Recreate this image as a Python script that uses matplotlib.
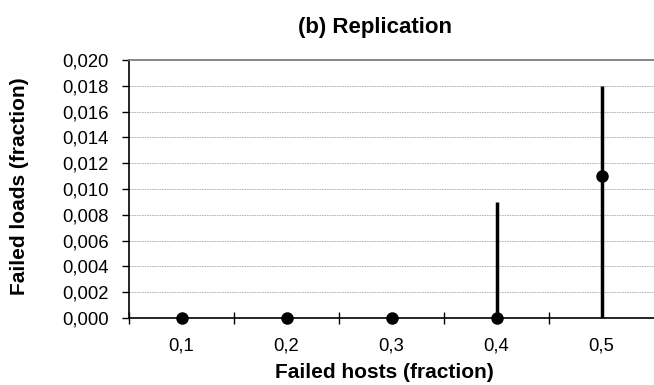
import matplotlib
matplotlib.use("Agg")
import matplotlib.pyplot as plt
from matplotlib.ticker import FuncFormatter, MultipleLocator, FixedLocator
import numpy as np

# values
categories = ["0,1", "0,2", "0,3", "0,4", "0,5"]
mean_vals = [0.0, 0.0, 0.0, 0.0, 0.011]
low_vals = [0.0, 0.0, 0.0, 0.0, 0.0]
high_vals = [0.0, 0.0, 0.0, 0.009, 0.018]

plt.rcParams["font.family"] = ["Liberation Sans", "DejaVu Sans"]

fig = plt.figure(figsize=(6.54, 3.85), dpi=100)
ax = fig.add_axes([129 / 654, 67 / 385, 525 / 654, 258 / 385])

x = np.arange(1, len(categories) + 1)
mean = np.array(mean_vals)
yerr = [mean - np.array(low_vals), np.array(high_vals) - mean]

ax.errorbar(x, mean, yerr=yerr, fmt="none", ecolor="black", elinewidth=2.5,
            capsize=0, zorder=3)
ax.plot(x, mean, "o", color="black", markersize=8, linestyle="none",
        zorder=4, clip_on=False)

ax.set_xlim(0.5, 5.5)
ax.set_ylim(0, 0.020)
ax.yaxis.set_major_locator(MultipleLocator(0.002))
ax.yaxis.set_major_formatter(FuncFormatter(lambda v, p: f"{v:.3f}".replace(".", ",")))

ax.set_xticks(x)
ax.set_xticklabels(categories)
ax.tick_params(axis="x", which="major", length=0, pad=14)
ax.xaxis.set_minor_locator(FixedLocator([0.5, 1.5, 2.5, 3.5, 4.5]))
ax.tick_params(axis="x", which="minor", direction="inout", length=8.5, width=1)
ax.tick_params(axis="y", direction="out", length=5, width=1, pad=9.5)
ax.tick_params(labelsize=13.3)

ax.grid(True, axis="y", linestyle=(0, (2, 1)), color="#aaaaaa", linewidth=0.6)
ax.set_axisbelow(True)

ax.spines["right"].set_visible(False)
ax.spines["top"].set_color("#808080")
ax.spines["top"].set_linewidth(1.3)
ax.spines["left"].set_linewidth(1.2)
ax.spines["bottom"].set_linewidth(1.2)

fig.text(375 / 654, 1 - 27 / 385, "(b) Replication", ha="center", va="center",
         fontsize=16, fontweight="bold")
fig.text(384 / 654, 1 - 373 / 385, "Failed hosts (fraction)", ha="center",
         va="center", fontsize=15, fontweight="bold")
fig.text(20 / 654, 1 - 186 / 385, "Failed loads (fraction)", ha="center",
         va="center", rotation=90, fontsize=15, fontweight="bold")

fig.savefig("out.png", dpi=100)
